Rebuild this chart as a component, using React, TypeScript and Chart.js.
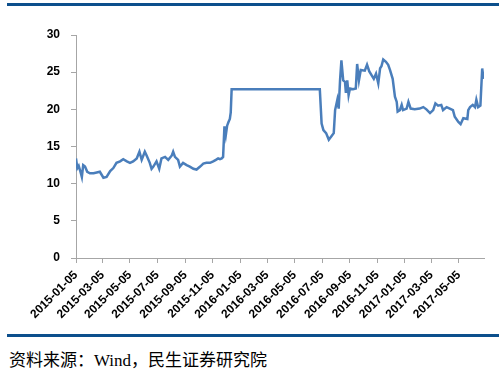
import React, { useEffect, useRef } from 'react';
import { Chart, registerables } from 'chart.js';

Chart.register(...registerables);

const startDate = '2015-01-05';
const tickLabels = [
  '2015-01-05', '2015-03-05', '2015-05-05', '2015-07-05', '2015-09-05', '2015-11-05',
  '2016-01-05', '2016-03-05', '2016-05-05', '2016-07-05', '2016-09-05', '2016-11-05',
  '2017-01-05', '2017-03-05', '2017-05-05',
];
const yMin = 0;
const yMax = 30;
const yStep = 5;
const lastDay = 907;

// days since 2015-01-05
const dayOffsets = [
  0, 3, 6, 9, 13, 16, 20, 25, 31, 39, 46, 53, 61, 68, 76, 83, 90, 98, 105, 113, 120, 127, 135, 141,
  146, 153, 157, 164, 168, 172, 179, 185, 190, 198, 205, 213, 216, 220, 227, 231, 238, 246, 253,
  261, 268, 276, 283, 290, 298, 305, 311, 316, 320, 324, 327, 330, 333, 336, 339, 342, 344, 346,
  542, 546, 550, 556, 562, 567, 573, 576, 581, 584, 587, 590, 594, 598, 600, 603, 606, 609, 616,
  622, 625, 629, 633, 642, 647, 652, 657, 662, 667, 672, 676, 679, 683, 689, 694, 698, 704, 709,
  713, 715, 720, 724, 727, 735, 739, 744, 753, 764, 772, 779, 787, 794, 799, 805, 812, 816, 824,
  831, 838, 842, 850, 855, 861, 870, 872, 876, 882, 887, 890, 894, 899, 903, 905, 907,
];
const values = [
  13.4, 12.1, 12.4, 11.8, 10.9, 12.5, 12.3, 11.6, 11.4, 11.4, 11.5, 11.6, 10.8, 10.9, 11.7, 12.1,
  12.8, 13.0, 13.3, 13.0, 12.8, 13.0, 13.4, 14.3, 13.2, 14.3, 13.8, 12.8, 12.0, 12.3, 13.0, 12.0,
  13.4, 13.6, 13.2, 13.8, 14.3, 13.6, 13.2, 12.3, 12.8, 12.5, 12.3, 12.0, 11.9, 12.3, 12.7, 12.8,
  12.8, 13.0, 13.2, 13.4, 13.3, 13.4, 13.6, 17.7, 16.5, 17.8, 18.3, 18.7, 19.6, 22.7,
  22.7, 18.1, 17.2, 16.8, 15.9, 16.3, 16.8, 19.9, 21.3, 20.1, 23.9, 26.6, 23.9, 23.7, 22.2, 23.9,
  21.9, 22.8, 22.7, 22.8, 26.1, 23.9, 25.3, 25.2, 26.0, 25.1, 24.6, 24.1, 24.8, 23.5, 25.5, 25.8,
  26.7, 26.4, 26.0, 25.3, 24.1, 21.7, 21.0, 19.7, 19.9, 20.6, 19.9, 20.1, 21.0, 20.1, 20.0, 20.1,
  20.3, 20.0, 19.5, 19.9, 20.8, 20.5, 20.6, 19.9, 20.3, 20.1, 19.9, 19.0, 18.3, 18.0, 18.8, 18.7,
  19.9, 20.3, 20.6, 20.3, 21.3, 20.3, 20.5, 25.5, 24.6, 24.1,
];

const sourceText = '资料来源：Wind，民生证券研究院';

function dayOf(date: string): number {
  const [y, m, d] = date.split('-').map(Number);
  const [sy, sm, sd] = startDate.split('-').map(Number);
  return Math.round((Date.UTC(y, m - 1, d) - Date.UTC(sy, sm - 1, sd)) / 86400000);
}

const axisColor = '#a6a6a6';
const ruleColor = '#0c4f8c';
const tickFont = { family: 'Liberation Sans', size: 12, weight: 'bold' as const };

export default function App() {
  const ref = useRef<HTMLCanvasElement | null>(null);

  useEffect(() => {
    if (!ref.current) return;
    const labelByDay: Record<number, string> = {};
    tickLabels.forEach((l) => (labelByDay[dayOf(l)] = l));
    const chart = new Chart(ref.current, {
      type: 'line',
      data: {
        datasets: [
          {
            data: dayOffsets.map((d, i) => ({ x: d, y: values[i] })),
            borderColor: '#4a7ebb',
            borderWidth: 2.5,
            pointRadius: 0,
            tension: 0,
            fill: false,
          },
        ],
      },
      options: {
        animation: false,
        responsive: false,
        maintainAspectRatio: false,
        layout: { padding: { top: 15, right: 15, left: 0, bottom: 0 } },
        plugins: { legend: { display: false }, tooltip: { enabled: false } },
        scales: {
          x: {
            type: 'linear',
            min: 0,
            max: lastDay,
            afterBuildTicks: (s: any) => {
              s.ticks = tickLabels.map((l) => ({ value: dayOf(l) }));
            },
            afterFit: (s: any) => {
              s.height = 67;
              s.paddingLeft = 0;
              s.paddingRight = 0;
            },
            ticks: {
              autoSkip: false,
              maxRotation: 45,
              minRotation: 45,
              padding: 5,
              color: '#000',
              font: tickFont,
              callback: (v: any) => labelByDay[v as number] ?? '',
            },
            grid: { drawOnChartArea: false, tickLength: 5, color: axisColor },
            border: { color: axisColor, width: 1 },
          },
          y: {
            min: yMin,
            max: yMax,
            afterFit: (s: any) => {
              s.width = 76;
              s.paddingTop = 0;
              s.paddingBottom = 0;
            },
            ticks: { stepSize: yStep, padding: 11, color: '#000', font: tickFont },
            grid: { drawOnChartArea: false, tickLength: 5, color: axisColor },
            border: { color: axisColor, width: 1 },
          },
        },
      },
    });
    return () => chart.destroy();
  }, []);

  return (
    <div style={{ position: 'absolute', left: 0, top: 0, width: 499, height: 376, background: '#fff' }}>
      <div style={{ position: 'absolute', left: 7, top: 3, width: 492, height: 3, background: ruleColor }} />
      <canvas ref={ref} width={499} height={305} style={{ position: 'absolute', left: 0, top: 20, width: 499, height: 305 }} />
      <div style={{ position: 'absolute', left: 7, top: 334, width: 492, height: 3, background: ruleColor }} />
      <div
        style={{
          position: 'absolute',
          left: 9,
          top: 351,
          fontFamily: '"Liberation Serif", "Noto Sans CJK SC", serif',
          fontSize: 17,
          lineHeight: '20px',
          color: '#000',
          whiteSpace: 'nowrap',
        }}
      >
        {sourceText}
      </div>
    </div>
  );
}
